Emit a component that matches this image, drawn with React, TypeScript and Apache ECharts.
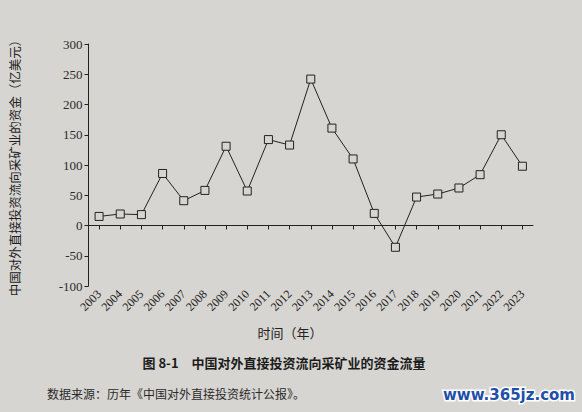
import React, { useEffect, useRef } from "react";
import * as echarts from "echarts";

const years = ["2003","2004","2005","2006","2007","2008","2009","2010","2011","2012","2013","2014","2015","2016","2017","2018","2019","2020","2021","2022","2023"];
const flows = [15, 19, 18, 86, 41, 58, 131, 57, 142, 133, 242, 161, 110, 20, -36, 47, 52, 62, 84, 150, 98];
const yTicks = { min: -100, max: 300, interval: 50 };
const yName = "中国对外直接投资流向采矿业的资金（亿美元）";
const xName = "时间（年）";
const caption = "图 8-1　中国对外直接投资流向采矿业的资金流量";
const source = "数据来源：历年《中国对外直接投资统计公报》。";
const watermark = "www.365jz.com";

const paper = "#d7d5d1";
const ink = "#222";

export default function App() {
  const ref = useRef<HTMLDivElement>(null);
  useEffect(() => {
    if (!ref.current) return;
    const chart = echarts.init(ref.current, null, { renderer: "svg" });
    const serif = "'Liberation Serif', 'DejaVu Serif', serif";
    const cjk = "'Noto Sans CJK SC', sans-serif";
    chart.setOption({
      animation: false,
      backgroundColor: paper,
      graphic: [
        { type: "text", x: 290, y: 332, style: { text: xName, font: `13px ${cjk}`, fill: ink, align: "center", verticalAlign: "middle" } },
        { type: "text", x: 284, y: 362, style: { text: caption, font: `bold 13px ${cjk}`, fill: "#1c1c1c", align: "center", verticalAlign: "middle" } },
        { type: "text", x: 47, y: 393, style: { text: source, font: `12px ${cjk}`, fill: "#2a2a2a", align: "left", verticalAlign: "middle" } },
        {
          type: "text", x: 575, y: 395,
          style: { text: watermark, font: `bold 15px 'DejaVu Sans', sans-serif`, fill: "#1f4fa8", stroke: "#ffffff", lineWidth: 3, align: "right", verticalAlign: "middle" },
        },
      ],
      grid: { left: 82, right: 49, top: 44, bottom: 126 },
      xAxis: [
        {
          type: "category",
          data: years,
          boundaryGap: true,
          position: "bottom",
          axisLine: { show: false, onZero: false },
          axisTick: { show: false },
          axisLabel: { rotate: 45, margin: 6, interval: 0, fontFamily: serif, fontSize: 12, color: ink },
        },
        {
          type: "category",
          data: years,
          boundaryGap: true,
          position: "bottom",
          axisLine: { show: true, onZero: true, onZeroAxisIndex: 0, lineStyle: { color: ink, width: 1 } },
          axisTick: { show: true, alignWithLabel: true, length: 4, interval: 0, lineStyle: { color: ink, width: 1 } },
          axisLabel: { show: false },
        },
      ],
      yAxis: {
        type: "value",
        min: yTicks.min,
        max: yTicks.max,
        interval: yTicks.interval,
        name: yName,
        nameLocation: "middle",
        nameGap: 68,
        nameRotate: 90,
        nameTextStyle: { fontFamily: cjk, fontSize: 12.5, color: ink },
        axisLine: { show: true, lineStyle: { color: ink, width: 1 } },
        axisTick: { show: true, length: 4, lineStyle: { color: ink, width: 1 } },
        axisLabel: { fontFamily: serif, fontSize: 13, color: "#2b2b2b", margin: 6 },
        splitLine: { show: false },
      },
      series: [
        {
          type: "line",
          xAxisIndex: 0,
          data: flows,
          symbol: "rect",
          symbolSize: 8,
          lineStyle: { color: ink, width: 1 },
          itemStyle: { color: paper, borderColor: ink, borderWidth: 1 },
        },
      ],
    });
    return () => chart.dispose();
  }, []);
  return <div ref={ref} style={{ position: "fixed", left: 0, top: 0, width: 582, height: 412 }} />;
}
